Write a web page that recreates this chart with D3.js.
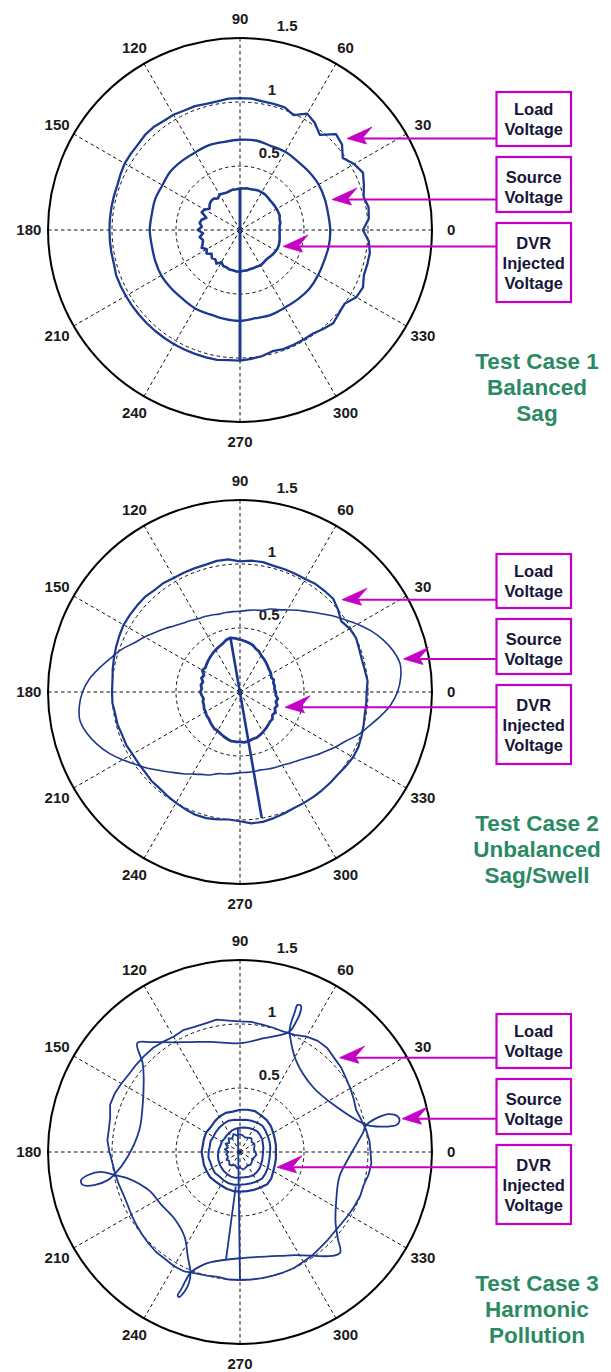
<!DOCTYPE html>
<html><head><meta charset="utf-8">
<script src="https://cdn.jsdelivr.net/npm/d3@7"></script>
<style>body{margin:0;background:#fff}svg{display:block;background:#fff}</style>
</head><body>
<svg id="chart" width="611" height="1372"></svg>
<script>
// ---------- data ----------
const angleTicks = [0,30,60,90,120,150,180,210,240,270,300,330];
const radialTicks = [0.5, 1, 1.5];
const legendLabels = [["Load","Voltage"],["Source","Voltage"],["DVR","Injected","Voltage"]];
const titles = [["Test Case 1","Balanced","Sag"],["Test Case 2","Unbalanced","Sag/Swell"],["Test Case 3","Harmonic","Pollution"]];
const angles5 = d3.range(0, 360, 5);
const angles10 = d3.range(0, 360, 10);

// Test case 1
const load1 = [0.96,1.01,1.02,1.00,1.03,1.06,1.03,0.98,1.04,1.06,0.97,1.02,
  1.05,0.99,1.02,1.02,1.02,1.03,1.03,1.03,1.02,1.02,1.03,1.03,
  1.04,1.04,1.05,1.05,1.04,1.04,1.04,1.03,1.02,1.02,1.02,1.02,
  1.02,1.02,1.02,1.02,1.03,1.03,1.03,1.03,1.03,1.03,1.03,1.03,
  1.03,1.03,1.03,1.03,1.03,1.02,1.02,1.01,1.00,0.98,0.99,0.99,
  0.99,0.99,1.01,1.03,1.01,1.00,1.05,1.06,1.03,1.03,1.03,1.01];
const source1 = [0.705,0.70,0.705,0.71,0.705,0.70,0.705,0.70,0.71,0.705,0.70,0.705,
  0.70,0.705,0.71,0.70,0.705,0.70,0.705,0.70,0.705,0.71,0.705,0.70,
  0.705,0.70,0.705,0.71,0.70,0.705,0.70,0.705,0.71,0.705,0.70,0.705];
const dvr1 = [0.31,0.31,0.32,0.32,0.33,0.33,0.33,0.33,0.33,0.33,0.335,0.34,
  0.34,0.34,0.335,0.33,0.33,0.325,0.325,0.32,0.32,0.315,0.31,0.315,
  0.32,0.30,0.32,0.32,0.31,0.29,0.32,0.33,0.28,0.31,0.32,0.30,
  0.33,0.29,0.32,0.30,0.31,0.33,0.30,0.32,0.29,0.31,0.30,0.32,
  0.29,0.31,0.31,0.32,0.32,0.325,0.325,0.32,0.32,0.315,0.315,0.315,
  0.32,0.315,0.31,0.31,0.315,0.32,0.325,0.327,0.325,0.32,0.315,0.31];
const transient1 = [[90,0.326],[270,1.02]];

// Test case 2
const load2 = [0.99,1.00,0.99,0.985,0.99,1.00,0.99,0.965,1.00,1.03,1.03,1.03,
  1.02,1.02,1.02,1.02,1.03,1.03,1.02,1.04,1.04,1.03,1.03,1.03,
  1.03,1.04,1.04,1.05,1.05,1.05,1.05,1.04,1.03,1.02,1.01,1.00,
  1.00,1.00,0.99,0.99,0.98,0.98,0.97,0.97,0.97,0.98,0.98,0.99,
  1.00,1.01,1.02,1.02,1.01,1.00,1.01,1.03,1.03,1.02,1.01,1.00,
  1.00,1.00,1.00,1.00,1.00,1.01,1.02,1.02,1.01,1.00,0.99,0.99];
const source2 = [1.23,1.26,1.27,1.24,1.19,1.13,1.06,0.99,0.93,0.87,0.82,0.78,
  0.74,0.71,0.69,0.66,0.65,0.64,0.63,0.63,0.63,0.63,0.64,0.65,
  0.66,0.68,0.70,0.73,0.77,0.81,0.86,0.91,0.98,1.04,1.11,1.18,
  1.23,1.26,1.27,1.24,1.19,1.13,1.06,0.99,0.93,0.87,0.82,0.78,
  0.74,0.71,0.69,0.66,0.65,0.64,0.63,0.63,0.63,0.63,0.64,0.65,
  0.66,0.68,0.70,0.73,0.77,0.81,0.86,0.91,0.98,1.04,1.11,1.18];
const dvr2 = [0.28,0.27,0.275,0.27,0.28,0.27,0.28,0.285,0.29,0.30,0.31,0.32,
  0.33,0.35,0.36,0.38,0.39,0.40,0.41,0.42,0.43,0.42,0.40,0.39,
  0.38,0.37,0.36,0.35,0.34,0.33,0.34,0.31,0.32,0.30,0.31,0.30,
  0.31,0.30,0.29,0.30,0.30,0.31,0.31,0.32,0.32,0.33,0.34,0.35,
  0.35,0.36,0.37,0.38,0.39,0.39,0.39,0.395,0.39,0.38,0.38,0.37,
  0.36,0.35,0.34,0.33,0.33,0.31,0.32,0.30,0.31,0.29,0.30,0.28];
const transient2 = [[100,0.434],[279.8,1.0]];

// Test case 3
const load3 = [1.02,1.015,1.00,0.98,0.965,0.98,0.995,1.01,1.03,1.04,1.06,1.06,
  1.04,1.01,1.00,1.005,1.01,1.02,1.02,1.03,1.05,1.04,1.04,1.05,
  1.04,1.05,1.06,1.06,1.06,1.06,1.07,1.08,1.08,1.05,1.04,1.04,
  1.02,1.00,0.99,0.98,0.97,0.97,0.98,0.99,1.00,1.01,1.02,1.02,
  1.03,1.03,1.01,1.00,0.99,1.00,1.00,1.00,1.00,1.00,1.00,1.00,
  0.99,0.985,0.975,0.97,0.966,0.97,0.98,0.99,1.00,1.00,1.02,1.03];
// source trace with harmonic loops: [angle (deg), magnitude]
const source3 = [[67.7,1.016],[58.7,0.84],[41.9,0.763],[25.3,0.83],[12.1,1.01],
  [10.1,1.13],[9.8,1.24],[11.1,1.27],[12.9,1.26],[14.3,1.20],[13.9,1.095],[12.1,1.01],
  [8.7,0.97],[357.5,0.855],[346,0.80],[332,0.85],[323.4,0.93],[318.5,1.02],[314.6,1.11],
  [296.3,0.90],[270,0.83],[255.2,0.89],[251.1,0.94],[247.7,1.02],
  [247.1,1.085],[246.8,1.17],[246.5,1.22],[247.2,1.23],[248.3,1.175],[248.7,1.10],[247.7,1.02],
  [243.5,0.914],[236.7,0.79],[225,0.73],[214,0.74],[203.1,0.77],[193.2,0.90],[190.3,1.0],
  [188.1,1.097],[188.6,1.20],[190,1.26],[191.8,1.255],[192.8,1.167],[192,1.056],[190.3,1.0],
  [182.4,0.878],[167.7,0.805],[155,0.84],[142,0.955],[137.6,1.03],[133.3,1.17],
  [129,1.105],[122,1.01],[114,0.94],[104.8,0.89],[90,0.85],[78.7,0.905],[67.7,1.016],
  [66.7,1.108],[66.6,1.18],[67.3,1.236],[68.6,1.234],[68.6,1.164],[68.4,1.08],[67.7,1.016]];
const dvr3a = [0.28,0.285,0.29,0.30,0.315,0.325,0.33,0.34,0.335,0.33,0.32,0.325,
  0.32,0.31,0.30,0.305,0.30,0.295,0.30,0.295,0.30,0.30,0.305,0.30,
  0.30,0.305,0.31,0.31,0.31,0.315,0.32,0.33,0.32,0.30,0.29,0.285];
const dvr3b = [0.235,0.24,0.245,0.25,0.26,0.27,0.265,0.26,0.255,0.25,0.255,0.26,
  0.255,0.25,0.245,0.24,0.245,0.24,0.245,0.25,0.245,0.25,0.255,0.25,
  0.255,0.26,0.26,0.255,0.255,0.26,0.265,0.27,0.26,0.25,0.24,0.235];
const dvr3c = [0.18,0.185,0.19,0.20,0.205,0.21,0.205,0.20,0.195,0.19,0.185,0.18,
  0.17,0.165,0.16,0.165,0.16,0.165,0.17,0.175,0.18,0.185,0.19,0.195,
  0.20,0.205,0.205,0.20,0.20,0.205,0.21,0.205,0.20,0.19,0.185,0.18];
const dvr3d = [0.12,0.11,0.12,0.13,0.12,0.14,0.13,0.12,0.13,0.14,0.13,0.15,
  0.12,0.14,0.11,0.13,0.10,0.12,0.09,0.11,0.10,0.12,0.11,0.13,
  0.12,0.11,0.13,0.12,0.14,0.13,0.12,0.13,0.12,0.11,0.12,0.13];
const transient3a = [[95,0.19],[270,1.0]];
const transient3b = [[263,0.27],[262.6,0.85]];

// ---------- layout ----------
const W = 611, H = 1372;
const CX = 240, CYS = [230, 692, 1152];
const RMAX = 192;
const BLUE = "#1c388f", MAG = "#c400c4", GREEN = "#2a8a62", INK = "#161638";
const FONT = "'Liberation Sans', Arial, sans-serif";

const svg = d3.select("#chart");
svg.append("rect").attr("width", W).attr("height", H).attr("fill", "#fff");

const r = d3.scaleLinear().domain([0, 1.5]).range([0, RMAX]);
const toRad = deg => (90 - deg) * Math.PI / 180;
const radial = d3.lineRadial().angle(d => toRad(d[0])).radius(d => r(d[1]));
const pairs = (angs, vals) => angs.map((a, i) => [a, vals[i]]);

const panels = [
  { series: [
      { pts: pairs(angles5, load1), closed: true, w: 2.3 },
      { pts: pairs(angles10, source1), closed: true, w: 2.3, smooth: true },
      { pts: pairs(angles5, dvr1), closed: true, w: 2.6 },
      { pts: transient1, w: 3 } ],
    arrows: [[-91.5, 347], [-30.5, 332], [16.5, 283]] },
  { series: [
      { pts: pairs(angles5, load2), closed: true, w: 2.2 },
      { pts: pairs(angles5, source2), closed: true, w: 1.6, smooth: true },
      { pts: pairs(angles5, dvr2), closed: true, w: 2.8 },
      { pts: transient2, w: 2.6 } ],
    arrows: [[-92.3, 342], [-33, 403.5], [15.3, 285]] },
  { series: [
      { pts: pairs(angles5, load3), closed: true, w: 1.8 },
      { pts: source3, w: 1.8, smooth: true },
      { pts: pairs(angles10, dvr3a), closed: true, w: 2.2 },
      { pts: pairs(angles10, dvr3b), closed: true, w: 2.0 },
      { pts: pairs(angles10, dvr3c), closed: true, w: 2.0 },
      { pts: pairs(angles10, dvr3d), closed: true, w: 1.8 },
      { pts: transient3a, w: 1.8 },
      { pts: transient3b, w: 1.8 } ],
    arrows: [[-94.3, 339.5], [-33.3, 402], [15.3, 277]] }
];

const boxes = [{ y0: -138, h: 54, ty: -110.5 }, { y0: -73, h: 55, ty: -43.3 }, { y0: -7, h: 79, ty: 32.7 }];
const BOX_X = 496.5, BOX_W = 74.5;

panels.forEach((p, pi) => {
  const cy = CYS[pi];
  const g = svg.append("g").attr("transform", `translate(${CX},${cy})`);

  // grid: dashed circles
  radialTicks.slice(0, -1).forEach(v => {
    g.append("circle").attr("r", r(v)).attr("fill", "none")
      .attr("stroke", "#111").attr("stroke-width", 1).attr("stroke-dasharray", "3.5,3");
  });
  // spokes
  angleTicks.forEach(a => {
    const t = a * Math.PI / 180;
    g.append("line").attr("x1", 0).attr("y1", 0)
      .attr("x2", r(1.5) * Math.cos(t)).attr("y2", -r(1.5) * Math.sin(t))
      .attr("stroke", "#111").attr("stroke-width", 1).attr("stroke-dasharray", "3.5,3");
  });
  // outer circle
  g.append("circle").attr("r", r(1.5)).attr("fill", "none").attr("stroke", "#000").attr("stroke-width", 2);

  // angle labels
  angleTicks.forEach(a => {
    const t = a * Math.PI / 180;
    g.append("text").attr("x", r(1.65) * Math.cos(t)).attr("y", -r(1.65) * Math.sin(t))
      .attr("text-anchor", "middle").attr("dy", "0.36em")
      .attr("font-family", FONT).attr("font-size", 15).attr("font-weight", "bold")
      .attr("fill", "#1a1a1a").text(a);
  });
  // radial labels
  const t82 = 82 * Math.PI / 180;
  radialTicks.forEach(v => {
    g.append("text").attr("x", r(v + 0.11) * Math.cos(t82) + 8).attr("y", -r(v + 0.11) * Math.sin(t82))
      .attr("text-anchor", "start").attr("dy", "0.36em")
      .attr("font-family", FONT).attr("font-size", 15).attr("font-weight", "bold")
      .attr("fill", "#1a1a1a").text(v);
  });

  // series
  p.series.forEach(s => {
    let gen = radial.curve(s.smooth ? (s.closed ? d3.curveCatmullRomClosed.alpha(0.5) : d3.curveCatmullRom.alpha(0.5))
                                     : (s.closed ? d3.curveLinearClosed : d3.curveLinear));
    g.append("path").attr("d", gen(s.pts)).attr("fill", "none")
      .attr("stroke", BLUE).attr("stroke-width", s.w).attr("stroke-linejoin", "round");
  });

  // legend boxes
  const lg = svg.append("g").attr("transform", `translate(0,${cy})`);
  boxes.forEach((b, bi) => {
    lg.append("rect").attr("x", BOX_X).attr("y", b.y0).attr("width", BOX_W).attr("height", b.h)
      .attr("fill", "#fff").attr("stroke", MAG).attr("stroke-width", 2.2);
    const lines = legendLabels[bi];
    lines.forEach((txt, li) => {
      lg.append("text").attr("x", BOX_X + BOX_W / 2)
        .attr("y", b.ty + (li - (lines.length - 1) / 2) * 20).attr("dy", "0.36em")
        .attr("text-anchor", "middle").attr("font-family", FONT).attr("font-size", 16.5)
        .attr("font-weight", "bold").attr("fill", INK).text(txt);
    });
    // arrow
    const [ay, tip] = p.arrows[bi];
    lg.append("line").attr("x1", BOX_X).attr("y1", ay).attr("x2", tip + 12).attr("y2", ay)
      .attr("stroke", MAG).attr("stroke-width", 2);
    lg.append("path").attr("d", `M${tip},${ay} L${tip + 25},${ay - 11.5} L${tip + 16},${ay - 1} L${tip + 19.5},${ay + 5.5} Z`)
      .attr("fill", MAG).attr("stroke", MAG).attr("stroke-width", 0.8).attr("stroke-linejoin", "round");
  });

  // title
  titles[pi].forEach((txt, li) => {
    lg.append("text").attr("x", 537).attr("y", 130.5 + li * 26.3).attr("dy", "0.36em")
      .attr("text-anchor", "middle").attr("font-family", FONT).attr("font-size", 22.5)
      .attr("font-weight", "bold").attr("fill", GREEN).text(txt);
  });
});
</script>
</body></html>
